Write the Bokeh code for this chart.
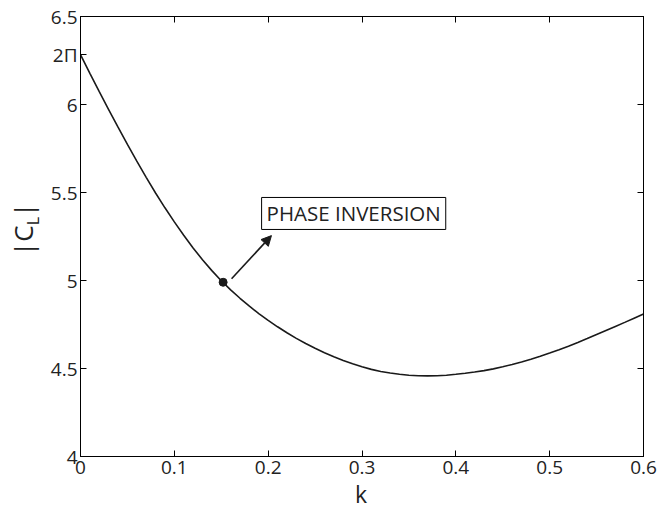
import math
from bokeh.plotting import figure
from bokeh.layouts import row, column
from bokeh.models import (FixedTicker, LinearAxis, Label, Arrow, NormalHead,
                          ColumnDataSource, Div)
from bokeh.embed import file_html
from bokeh.resources import INLINE

# reduced frequency and lift coefficient magnitude
k_vals = [0.00, 0.01, 0.02, 0.03, 0.04, 0.05, 0.06, 0.07, 0.08, 0.09,
          0.10, 0.11, 0.12, 0.13, 0.14, 0.15, 0.16, 0.17, 0.18, 0.19,
          0.20, 0.21, 0.22, 0.23, 0.24, 0.25, 0.26, 0.27, 0.28, 0.29,
          0.30, 0.31, 0.32, 0.33, 0.34, 0.35, 0.36, 0.37, 0.38, 0.39,
          0.40, 0.41, 0.42, 0.43, 0.44, 0.45, 0.46, 0.47, 0.48, 0.49,
          0.50, 0.51, 0.52, 0.53, 0.54, 0.55, 0.56, 0.57, 0.58, 0.59,
          0.60]
cl_vals = [6.283, 6.177, 6.073, 5.971, 5.871, 5.773, 5.678, 5.586, 5.497, 5.413,
           5.333, 5.257, 5.185, 5.118, 5.056, 4.999, 4.947, 4.899, 4.854, 4.812,
           4.773, 4.737, 4.703, 4.671, 4.642, 4.615, 4.590, 4.567, 4.546, 4.527,
           4.510, 4.495, 4.483, 4.474, 4.467, 4.462, 4.459, 4.458, 4.459, 4.462,
           4.467, 4.473, 4.480, 4.488, 4.498, 4.510, 4.523, 4.537, 4.553, 4.570,
           4.588, 4.607, 4.627, 4.648, 4.670, 4.693, 4.716, 4.739, 4.762, 4.786,
           4.810]

# phase inversion point
phase_k = 0.152
phase_cl = 4.99

TWO_PI = 2 * math.pi
x_ticks = [0, 0.1, 0.2, 0.3, 0.4, 0.5, 0.6]
y_ticks = [4, 4.5, 5, 5.5, 6, 6.5]

FONT = "Open Sans"
INK = "#222222"

p = figure(frame_width=563, frame_height=440,
           x_range=(0, 0.6), y_range=(4, 6.5),
           output_backend="svg", toolbar_location=None,
           min_border_left=35, min_border_right=15,
           min_border_top=16, min_border_bottom=30,
           background_fill_color="white", border_fill_color="white")
p.grid.visible = False
p.outline_line_color = "black"
p.outline_line_width = 1


def style_axis(ax, ticks, show_labels=True):
    ax.ticker = FixedTicker(ticks=ticks)
    ax.axis_line_color = "black"
    ax.axis_line_width = 1
    ax.major_tick_in = 6
    ax.major_tick_out = 0
    ax.major_tick_line_color = "black"
    ax.minor_tick_line_color = None
    ax.major_label_text_font = FONT
    if show_labels:
        ax.major_label_text_font_size = "19px"
        ax.major_label_text_color = INK
    else:
        ax.major_label_text_font_size = "1px"
        ax.major_label_text_color = None
        ax.major_label_standoff = 0


style_axis(p.xaxis[0], x_ticks)
style_axis(p.yaxis[0], y_ticks + [TWO_PI])
p.yaxis[0].major_label_overrides = {TWO_PI: "2Π"}
p.xaxis[0].major_label_standoff = 4
p.yaxis[0].major_label_standoff = 3

top_axis = LinearAxis()
right_axis = LinearAxis()
style_axis(top_axis, x_ticks, show_labels=False)
style_axis(right_axis, y_ticks, show_labels=False)
p.add_layout(top_axis, "above")
p.add_layout(right_axis, "right")

src = ColumnDataSource(data=dict(k=k_vals, cl=cl_vals))
p.line("k", "cl", source=src, line_color="#1a1a1a", line_width=1.6)

p.scatter([phase_k], [phase_cl], size=8, color="#1a1a1a")

# annotation arrow and boxed text
p.add_layout(Arrow(end=NormalHead(size=10, fill_color="#1a1a1a",
                                  line_color="#1a1a1a"),
                   x_start=0.161, y_start=5.01, x_end=0.2035, y_end=5.255,
                   line_color="#1a1a1a", line_width=1.6))
p.add_layout(Label(x=0.193, y=5.29, text="PHASE INVERSION",
                   text_font=FONT, text_font_size="20.5px", text_color=INK,
                   text_align="left", text_baseline="bottom",
                   border_line_color="black", border_line_width=1,
                   background_fill_color="white", padding=(5, 2)))

# vertical axis title |C_L| with a subscript
ylabel = Div(
    text=('<div style="position:absolute; left:10px; top:256px; '
          'transform:rotate(-90deg); transform-origin:0 0; '
          "font-family:'Open Sans'; font-size:26px; line-height:26px; "
          'white-space:nowrap; color:#222222;">'
          '|C<sub style="font-size:16px; vertical-align:-6px;">L</sub>|</div>'),
    width=45, height=486, margin=0, styles={"position": "relative"})

# horizontal axis title, centred under the plot frame
xlabel = Div(
    text=('<div style="position:absolute; left:361px; top:-8px; '
          'transform:translateX(-50%); '
          "font-family:'Open Sans'; font-size:23px; "
          'white-space:nowrap; color:#222222;">k</div>'),
    width=658, height=25, margin=0, styles={"position": "relative"})

layout = column(row(ylabel, p, spacing=0), xlabel, spacing=0)

open("out.html", "w").write(file_html(layout, INLINE))
